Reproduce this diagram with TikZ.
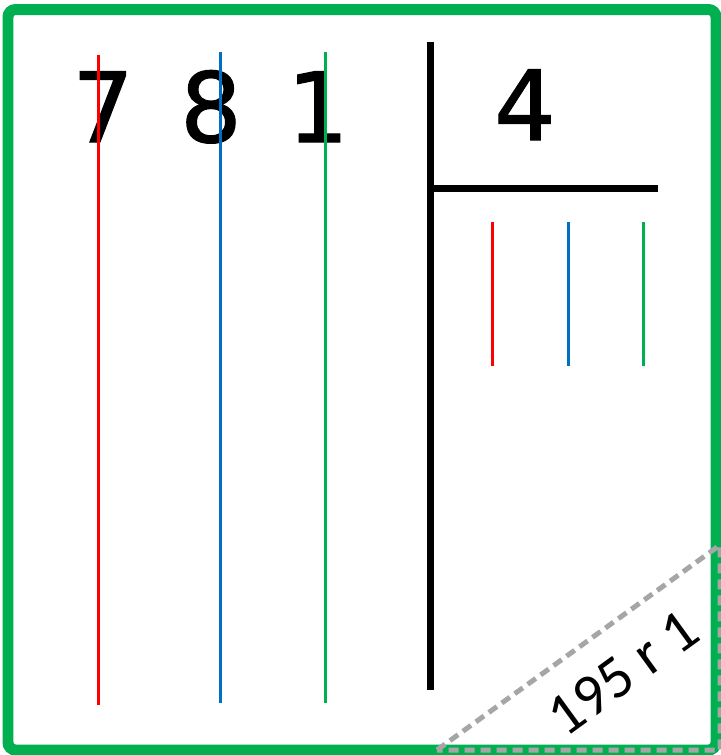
\documentclass[tikz,border=0pt]{standalone}
\usepackage{fontspec}
\setmainfont{DejaVu Sans}
\newfontfamily\digfont[FakeBold=1.3]{DejaVu Sans}
\newfontfamily\remfont{Carlito}
\usepackage{xcolor}
\usepackage{tikz}

\definecolor{digred}{HTML}{FF0000}
\definecolor{digblue}{HTML}{0070C0}
\definecolor{diggreen}{HTML}{00B050}
\definecolor{remgray}{HTML}{A6A6A6}

\begin{document}
\begin{tikzpicture}[x=0.02cm,y=-0.02cm,
    digit/.style={inner sep=0pt,anchor=base,font=\digfont\fontsize{55}{55}\selectfont},
    guide/.style={line width=0.06cm},
    bar/.style={line width=0.14cm,black}]
  \useasboundingbox (0,0) rectangle (721,755);
  % frame
  \draw[diggreen,line width=0.22cm,rounded corners=0.15cm] (8,9.5) rectangle (716,750);
  % dividend
  \node[digit] (d7) at (103,142) {7};
  \node[digit] (d8) at (211,142) {8};
  \node[digit] (d1) at (318,142) {1};
  \draw[guide,digred] (98,55) -- (98,705);
  \draw[guide,digblue] (220,52) -- (220,703);
  \draw[guide,diggreen] (325,52) -- (325,703);
  % divisor
  \draw[bar] (430,42) -- (430,690);
  \draw[bar] (430,188) -- (658,188);
  \node[digit] (dv) at (525,140) {4};
  \draw[guide,digred] (492,222) -- (492,366);
  \draw[guide,digblue] (568,222) -- (568,366);
  \draw[guide,diggreen] (643,222) -- (643,366);
  % answer corner
  \draw[remgray,line width=0.1cm,dash pattern=on 0.2cm off 0.12cm]
    (437,750) -- (720,545) -- (720,750) -- cycle;
  \node[inner sep=0pt,rotate=36,font=\remfont\fontsize{34}{34}\selectfont] (ans) at (623,673) {195 r 1};
\end{tikzpicture}
\end{document}
